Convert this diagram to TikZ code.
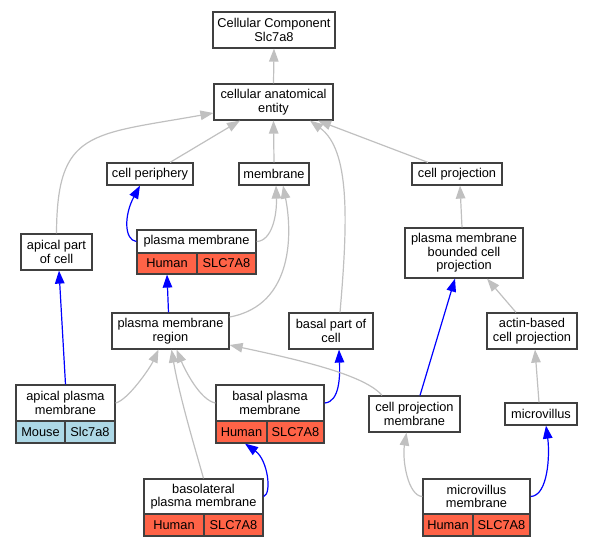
\documentclass[tikz,border=0pt]{standalone}
\usepackage{fontspec}
\setmainfont{Liberation Sans}
\usetikzlibrary{arrows.meta,calc}
\definecolor{edgegray}{HTML}{C0C0C0}
\definecolor{bordergray}{HTML}{404040}
\definecolor{human}{HTML}{FF6347}
\definecolor{mouse}{HTML}{ADD8E6}
\begin{document}
\begin{tikzpicture}[x=1pt,y=-1pt,
  box/.style={draw=bordergray,line width=1.2pt,fill=white,rectangle,inner sep=0pt,align=center,
    font=\fontsize{12.8}{13.6}\selectfont},
  cellh/.style={box,fill=human},
  cellm/.style={box,fill=mouse},
  isa/.style={draw=edgegray,line width=1.2pt,-{Triangle[length=13pt,width=9.5pt]}},
  rel/.style={draw=blue,line width=1.2pt,-{Triangle[length=13pt,width=9.5pt]}}]
\useasboundingbox (0,0) rectangle (593,547);
% nodes
\node[box,minimum width=122pt,minimum height=36pt] (cc) at (274,30) {Cellular Component\\Slc7a8};
\node[box,minimum width=119pt,minimum height=36pt] (cae) at (273.5,102) {cellular anatomical\\entity};
\node[box,minimum width=86pt,minimum height=22pt] (cp) at (150,174) {cell periphery};
\node[box,minimum width=70pt,minimum height=22pt] (mem) at (274,174) {membrane};
\node[box,minimum width=90pt,minimum height=22pt] (cproj) at (457,174) {cell projection};
\node[box,minimum width=71pt,minimum height=36pt] (apc) at (56.5,252) {apical part\\of cell};
\node[box,minimum width=119pt,minimum height=23pt] (pm) at (196.5,241.5) {plasma membrane};
\node[cellh,minimum width=60pt,minimum height=21pt] (pmH) at (167,263.5) {Human};
\node[cellh,minimum width=59pt,minimum height=21pt] (pmS) at (226.5,263.5) {SLC7A8};
\node[box,minimum width=118pt,minimum height=50pt] (pmbcp) at (464,253) {plasma membrane\\bounded cell\\projection};
\node[box,minimum width=117pt,minimum height=36pt] (pmr) at (170.5,331) {plasma membrane\\region};
\node[box,minimum width=84pt,minimum height=36pt] (bpc) at (331,331) {basal part of\\cell};
\node[box,minimum width=90pt,minimum height=36pt] (abcp) at (532,331) {actin-based\\cell projection};
\node[box,minimum width=99pt,minimum height=36pt] (apm) at (65.5,403) {apical plasma\\membrane};
\node[cellm,minimum width=49pt,minimum height=22pt] (apmM) at (40.5,432) {Mouse};
\node[cellm,minimum width=50pt,minimum height=22pt] (apmS) at (90,432) {Slc7a8};
\node[box,minimum width=108pt,minimum height=36pt] (bpm) at (270,403) {basal plasma\\membrane};
\node[cellh,minimum width=51pt,minimum height=22pt] (bpmH) at (241.5,432) {Human};
\node[cellh,minimum width=57pt,minimum height=22pt] (bpmS) at (295.5,432) {SLC7A8};
\node[box,minimum width=91pt,minimum height=36pt] (cpm) at (414.5,414) {cell projection\\membrane};
\node[box,minimum width=72pt,minimum height=22pt] (mv) at (541,414) {microvillus};
\node[box,minimum width=119pt,minimum height=35pt] (blpm) at (203.5,496.5) {basolateral\\plasma membrane};
\node[cellh,minimum width=60pt,minimum height=22pt] (blpmH) at (174,525) {Human};
\node[cellh,minimum width=59pt,minimum height=22pt] (blpmS) at (233.5,525) {SLC7A8};
\node[box,minimum width=107pt,minimum height=35pt] (mvm) at (476.5,496.5) {microvillus\\membrane};
\node[cellh,minimum width=50pt,minimum height=22pt] (mvmH) at (448,525) {Human};
\node[cellh,minimum width=57pt,minimum height=22pt] (mvmS) at (501.5,525) {SLC7A8};
% edges
\draw[isa] (cae.north) -- (cc.south);
\draw[isa] ($(cp.north)+(20,0)$) -- ($(cae.south)+(-33.5,0)$);
\draw[isa] (mem.north) -- (cae.south);
\draw[isa] ($(cproj.north)+(-29,0)$) -- ($(cae.south)+(44.5,0)$);
\draw[isa] (apc.north) .. controls (57,130) and (90,135) .. ($(cae.west)+(0,11)$);
\draw[isa] ($(bpc.north)+(9,0)$) .. controls (348,220) and (350,150) .. ($(cae.south)+(36.5,0)$);
\draw[rel] (pm.west) .. controls (124,240) and (124,215) .. ($(cp.south)+(-10,0)$);
\draw[isa] (pm.east) .. controls (272,241) and (277,215) .. ($(mem.south)+(2,0)$);
\draw[isa] ($(pmr.east)+(0,-14)$) .. controls (295,305) and (292,230) .. ($(mem.south)+(9,0)$);
\draw[rel] ($(pmr.north)+(-2,0)$) -- (pmH.south);
\draw[rel] (apm.north) -- ($(apc.south)+(2.5,0)$);
\draw[isa] (apm.east) .. controls (128,400) and (150,368) .. ($(pmr.south)+(-12,0)$);
\draw[isa] (bpm.west) .. controls (200,400) and (185,370) .. ($(pmr.south)+(6,0)$);
\draw[isa] (blpm.north) .. controls (200,465) and (180,400) .. ($(pmr.south)+(1,0)$);
\draw[rel] (blpm.east) .. controls (272,494) and (268,460) .. ($(bpmH.south)+(3.5,0)$);
\draw[rel] (bpm.east) .. controls (340,402) and (340,375) .. ($(bpc.south)+(8,0)$);
\draw[isa] ($(cpm.north)+(-32.5,0)$) .. controls (365,375) and (300,360) .. ($(pmr.east)+(0,14)$);
\draw[rel] ($(cpm.north)+(5.5,0)$) -- ($(pmbcp.south)+(-9,0)$);
\draw[isa] (mvm.west) .. controls (408,496) and (402,460) .. ($(cpm.south)+(-8,0)$);
\draw[rel] (mvm.east) .. controls (548,496) and (550,455) .. ($(mv.south)+(5,0)$);
\draw[isa] ($(mv.north)+(-2,0)$) -- ($(abcp.south)+(3,0)$);
\draw[isa] ($(abcp.north)+(-16,0)$) -- ($(pmbcp.south)+(23,0)$);
\draw[isa] ($(pmbcp.north)+(-2,0)$) -- ($(cproj.south)+(3,0)$);
\end{tikzpicture}
\end{document}
